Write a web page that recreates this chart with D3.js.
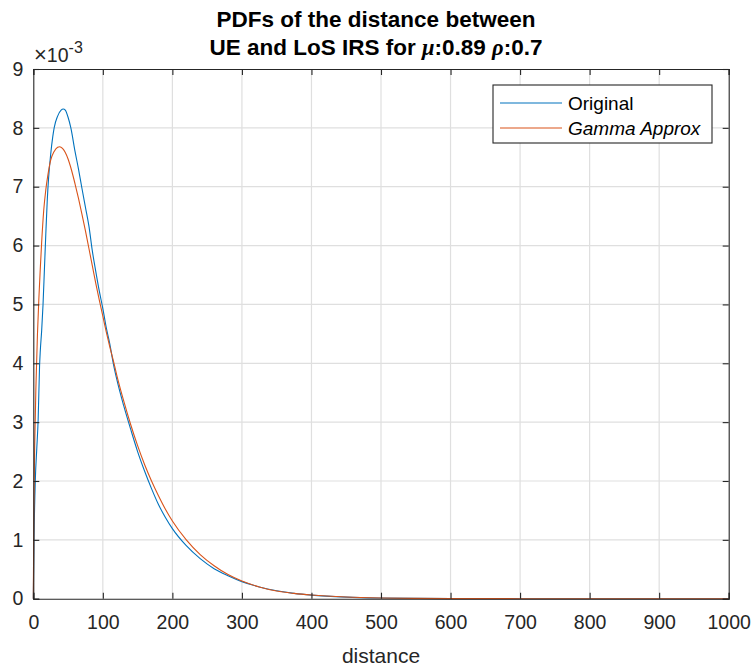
<!DOCTYPE html>
<html>
<head>
<meta charset="utf-8">
<script src="https://cdn.jsdelivr.net/npm/d3@7"></script>
<style>
  html, body { margin: 0; padding: 0; background: #fff; }
  svg { display: block; font-family: "Liberation Sans", Arial, sans-serif; }
</style>
</head>
<body>
<svg id="chart" width="755" height="670"></svg>
<script>
// Sampled probability densities (values in units of 1e-3)
const originalX = [0, 1, 3, 5, 7, 9, 10, 12, 14, 16, 18, 20, 22, 25, 28, 30, 35, 40, 43, 46, 50, 54, 60, 65, 70, 75, 80, 85, 90, 95, 100, 105, 110, 115, 120, 130, 140, 150, 160, 170, 180, 190, 200, 220, 240, 260, 280, 300, 325, 350, 375, 400, 450, 500, 550, 600, 700, 800, 900, 1000];
const originalY = [0, 1.0, 2.05, 2.55, 3.05, 3.95, 4.2, 4.55, 5.0, 5.6, 6.2, 6.75, 7.15, 7.55, 7.85, 8.0, 8.2, 8.3, 8.32, 8.3, 8.18, 8.0, 7.6, 7.3, 6.97, 6.65, 6.33, 5.9, 5.55, 5.22, 4.93, 4.6, 4.33, 4.0, 3.73, 3.28, 2.88, 2.5, 2.17, 1.87, 1.6, 1.38, 1.19, 0.9, 0.68, 0.51, 0.39, 0.29, 0.2, 0.135, 0.09, 0.06, 0.027, 0.012, 0.005, 0.002, 0.0004, 0.0001, 0, 0];

const gammaX = [0, 1, 2, 4, 6, 8, 10, 12, 15, 18, 21, 25, 30, 35, 38, 42, 46, 50, 55, 60, 65, 70, 75, 80, 85, 90, 95, 100, 105, 110, 115, 120, 130, 140, 150, 160, 170, 180, 190, 200, 220, 240, 260, 280, 300, 325, 350, 375, 400, 450, 500, 550, 600, 700, 800, 900, 1000];
const gammaY = [0, 1.7, 2.6, 3.7, 4.5, 5.1, 5.6, 6.05, 6.6, 6.95, 7.2, 7.45, 7.6, 7.67, 7.68, 7.65, 7.58, 7.47, 7.28, 7.05, 6.8, 6.53, 6.25, 5.95, 5.65, 5.35, 5.07, 4.8, 4.53, 4.28, 4.05, 3.8, 3.36, 2.96, 2.6, 2.28, 2.0, 1.75, 1.52, 1.32, 1.0, 0.75, 0.56, 0.41, 0.30, 0.2, 0.13, 0.09, 0.062, 0.028, 0.012, 0.005, 0.002, 0.0004, 0.0001, 0, 0];

const xTicks = [0, 100, 200, 300, 400, 500, 600, 700, 800, 900, 1000];
const yTicks = [0, 1, 2, 3, 4, 5, 6, 7, 8, 9];   // in units of 1e-3
const seriesNames = ["Original", "Gamma Approx"];
const seriesColors = ["#0072BD", "#D95319"];

const svg = d3.select("#chart");
const plot = { left: 33.3, right: 728.7, top: 69, bottom: 598.7 };

const x = d3.scaleLinear().domain([0, 1000]).range([plot.left, plot.right]);
const y = d3.scaleLinear().domain([0, 9]).range([plot.bottom, plot.top]);

const axisColor = "#262626";
const gridColor = "#dfdfdf";
const tickLen = 6;
const tickFont = 19.5;

// grid
const grid = svg.append("g");
grid.selectAll("line.gx").data(xTicks.slice(1, -1)).join("line")
  .attr("x1", d => x(d)).attr("x2", d => x(d))
  .attr("y1", plot.top).attr("y2", plot.bottom)
  .attr("stroke", gridColor).attr("stroke-width", 1.2);
grid.selectAll("line.gy").data(yTicks.slice(1, -1)).join("line")
  .attr("x1", plot.left).attr("x2", plot.right)
  .attr("y1", d => y(d)).attr("y2", d => y(d))
  .attr("stroke", gridColor).attr("stroke-width", 1.2);

// curves
const line = d3.line().x(d => x(d[0])).y(d => y(d[1])).curve(d3.curveMonotoneX);
const series = [
  d3.zip(originalX, originalY),
  d3.zip(gammaX, gammaY)
];
svg.append("g").selectAll("path").data(series).join("path")
  .attr("d", line)
  .attr("fill", "none")
  .attr("stroke", (d, i) => seriesColors[i])
  .attr("stroke-width", 1.1);

// axes (box with inward ticks on all sides)
const bottomAxis = d3.axisBottom(x).tickValues(xTicks).tickSize(-tickLen).tickPadding(tickLen + 10).tickFormat(d3.format("d"));
const topAxis = d3.axisTop(x).tickValues(xTicks).tickSize(-tickLen).tickFormat("");
const leftAxis = d3.axisLeft(y).tickValues(yTicks).tickSize(-tickLen).tickPadding(tickLen + 4).tickFormat(d3.format("d"));
const rightAxis = d3.axisRight(y).tickValues(yTicks).tickSize(-tickLen).tickFormat("");

function styleAxis(g) {
  g.select(".domain").attr("stroke", axisColor).attr("stroke-width", 1.1);
  g.selectAll(".tick line").attr("stroke", axisColor).attr("stroke-width", 1.1);
  g.selectAll(".tick text").attr("fill", axisColor)
    .style("font-size", tickFont + "px")
    .style("font-family", "'Liberation Sans', Arial, sans-serif");
}

svg.append("g").attr("transform", `translate(0,${plot.bottom})`).call(bottomAxis).call(styleAxis);
svg.append("g").attr("transform", `translate(0,${plot.top})`).call(topAxis).call(styleAxis);
svg.append("g").attr("transform", `translate(${plot.left},0)`).call(leftAxis).call(styleAxis);
svg.append("g").attr("transform", `translate(${plot.right},0)`).call(rightAxis).call(styleAxis);

// exponent marker
const expo = svg.append("text").attr("x", 34).attr("y", 62)
  .attr("fill", axisColor).style("font-size", tickFont + "px");
expo.append("tspan").style("font-size", "22px").text("\u00D7");
expo.append("tspan").text("10");
expo.append("tspan").attr("dy", -9).style("font-size", "16px").text("-3");

// x label
svg.append("text")
  .attr("x", (plot.left + plot.right) / 2).attr("y", 663)
  .attr("text-anchor", "middle").attr("fill", axisColor)
  .style("font-size", "21px").text("distance");

// title
const title = svg.append("g").attr("fill", "#000").style("font-weight", "bold").style("font-size", "22.5px");
title.append("text").attr("x", (plot.left + plot.right) / 2 - 5).attr("y", 27)
  .attr("text-anchor", "middle").text("PDFs of the distance between");
const t2 = title.append("text").attr("x", (plot.left + plot.right) / 2 - 5).attr("y", 55)
  .attr("text-anchor", "middle");
t2.append("tspan").text("UE and LoS IRS for ");
t2.append("tspan").style("font-family", "'Liberation Serif', serif").style("font-style", "italic").text("\u03BC");
t2.append("tspan").text(":0.89 ");
t2.append("tspan").style("font-family", "'Liberation Serif', serif").style("font-style", "italic").text("\u03C1");
t2.append("tspan").text(":0.7");

// legend
const legend = svg.append("g");
legend.append("rect")
  .attr("x", 493).attr("y", 85).attr("width", 219).attr("height", 58)
  .attr("fill", "#fff").attr("stroke", axisColor).attr("stroke-width", 1.1);
const rows = legend.selectAll("g.row").data(seriesNames).join("g")
  .attr("transform", (d, i) => `translate(0,${103 + i * 25})`);
rows.append("line")
  .attr("x1", 500).attr("x2", 562).attr("y1", 0).attr("y2", 0)
  .attr("stroke", (d, i) => seriesColors[i]).attr("stroke-width", 1.1);
rows.append("text")
  .attr("x", 568).attr("y", 7)
  .attr("fill", "#000").style("font-size", "19px")
  .style("font-style", (d, i) => i === 1 ? "italic" : "normal")
  .text(d => d);
</script>
</body>
</html>
